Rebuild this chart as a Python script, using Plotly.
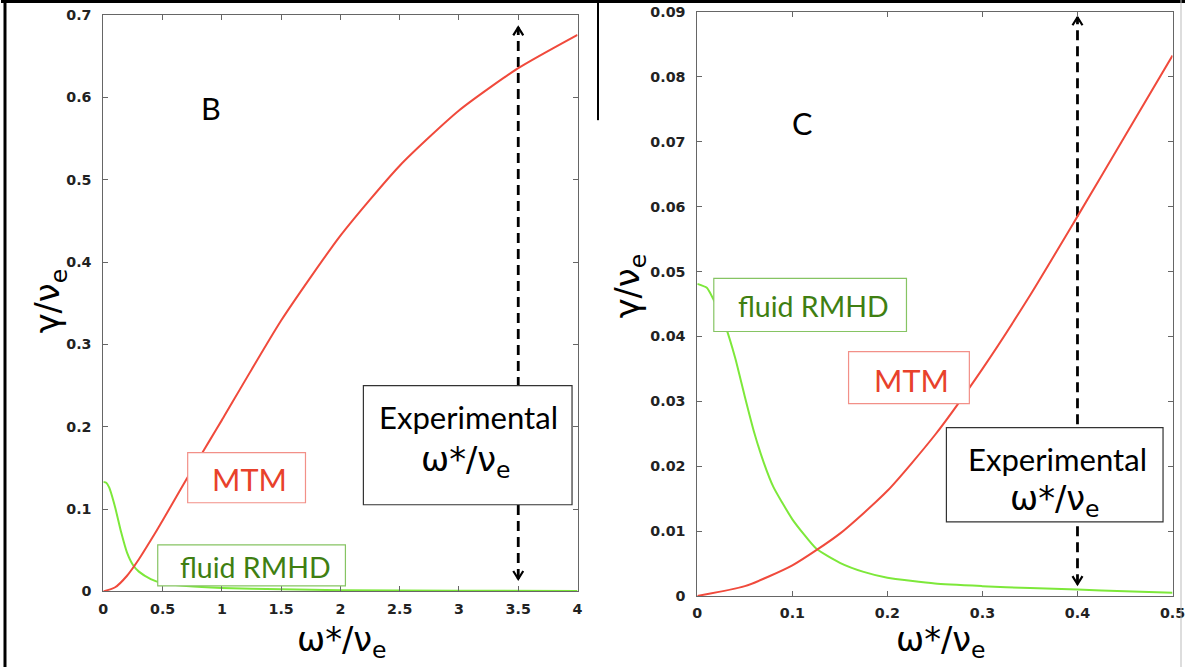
import plotly.graph_objects as go

# Target picture size and the page size that maps onto it
W, H = 1186, 667
SX, SY = 0.987, 0.9755           # picture px per page px
PW, PH = round(W / SX), round(H / SY)
OFFX, OFFY = 3.85, 7.6           # page shift so the figure starts at the picture's corner
F = 1 / ((SX + SY) / 2)          # font compensation

# ---------------- data ----------------
# Panel B
b_mtm_x = [0, 0.1, 0.2, 0.3, 0.4, 0.5, 0.6, 0.7, 0.8, 0.9, 1.0, 1.5, 2.0, 2.5, 3.0, 3.5, 4.0]
b_mtm_y = [0, 0.005, 0.019, 0.039, 0.062, 0.086, 0.111, 0.136, 0.160, 0.184, 0.208, 0.329, 0.432, 0.517, 0.584, 0.6355, 0.676]
b_rmhd_x = [0, 0.025, 0.05, 0.1, 0.15, 0.2, 0.25, 0.3, 0.4, 0.5, 0.7, 1.0, 1.5, 2.0, 3.0, 4.0]
b_rmhd_y = [0.133, 0.132, 0.126, 0.102, 0.072, 0.047, 0.032, 0.024, 0.015, 0.010, 0.0065, 0.004, 0.0025, 0.0015, 0.0008, 0.0005]
b_exp_x = 3.5
b_exp_y = [0.015, 0.685]
b_xticks = [0, 0.5, 1, 1.5, 2, 2.5, 3, 3.5, 4]
b_xticklabels = ["0", "0.5", "1", "1.5", "2", "2.5", "3", "3.5", "4"]
b_yticks = [0, 0.1, 0.2, 0.3, 0.4, 0.5, 0.6, 0.7]
b_yticklabels = ["0", "0.1", "0.2", "0.3", "0.4", "0.5", "0.6", "0.7"]

# Panel C
c_mtm_x = [0, 0.05, 0.1, 0.15, 0.2, 0.25, 0.3, 0.35, 0.4, 0.45, 0.5]
c_mtm_y = [0, 0.0015, 0.0047, 0.0096, 0.0162, 0.0248, 0.0350, 0.0463, 0.0585, 0.0709, 0.0833]
c_rmhd_x = [0, 0.01, 0.02, 0.03, 0.04, 0.05, 0.06, 0.07, 0.08, 0.1, 0.125, 0.15, 0.175, 0.2, 0.25, 0.3, 0.35, 0.4, 0.45, 0.5]
c_rmhd_y = [0.0481, 0.0475, 0.0448, 0.0414, 0.0366, 0.0307, 0.0251, 0.0205, 0.0168, 0.0118, 0.0073, 0.0051, 0.0037, 0.0028, 0.0019, 0.0015, 0.0012, 0.0010, 0.0007, 0.0005]
c_exp_x = 0.4
c_exp_y = [0.0018, 0.0892]
c_xticks = [0, 0.1, 0.2, 0.3, 0.4, 0.5]
c_xticklabels = ["0", "0.1", "0.2", "0.3", "0.4", "0.5"]
c_yticks = [0, 0.01, 0.02, 0.03, 0.04, 0.05, 0.06, 0.07, 0.08, 0.09]
c_yticklabels = ["0", "0.01", "0.02", "0.03", "0.04", "0.05", "0.06", "0.07", "0.08", "0.09"]

# ---------------- layout helpers (reference picture px -> paper) ----------------
def px(x):
    return x / W

def py(y):
    return 1 - y / H

RED = "#f04a3c"
GREEN = "#7de83a"
RED_BOX = "#f29088"
RED_TXT = "#e8412b"
GREEN_BOX = "#86c463"
GREEN_TXT = "#3f7f12"
AX = "#666666"

# plot areas in reference pixels: (left, top, right, bottom)
B_AREA = (102.5, 15, 577.5, 590.5)
C_AREA = (697.5, 12, 1173.5, 595)
B_RANGE = ([0, 4], [0, 0.7])
C_RANGE = ([0, 0.5], [0, 0.09])

fig = go.Figure()

def chevron(area, rng, x0, y0, up, xa, ya):
    l, t, r, b = area
    sx = (rng[0][1] - rng[0][0]) / (r - l)
    sy = (rng[1][1] - rng[1][0]) / (b - t)
    dx = 5 * sx
    dy = 8 * sy * (-1 if up else 1)
    fig.add_trace(go.Scatter(x=[x0 - dx, x0, x0 + dx], y=[y0 + dy, y0, y0 + dy], mode="lines",
                             line=dict(color="black", width=2.2), xaxis=xa, yaxis=ya,
                             showlegend=False, hoverinfo="skip"))

for (mx, my, rx, ry, ex, ey, area, rng, xa, ya) in [
    (b_mtm_x, b_mtm_y, b_rmhd_x, b_rmhd_y, b_exp_x, b_exp_y, B_AREA, B_RANGE, "x", "y"),
    (c_mtm_x, c_mtm_y, c_rmhd_x, c_rmhd_y, c_exp_x, c_exp_y, C_AREA, C_RANGE, "x2", "y2"),
]:
    fig.add_trace(go.Scatter(x=[ex, ex], y=ey, mode="lines",
                             line=dict(color="black", width=2.8, dash="10px,6px"),
                             xaxis=xa, yaxis=ya, showlegend=False, hoverinfo="skip"))
    chevron(area, rng, ex, ey[1], True, xa, ya)
    chevron(area, rng, ex, ey[0], False, xa, ya)
    fig.add_trace(go.Scatter(x=rx, y=ry, mode="lines", line=dict(color=GREEN, width=2, shape="spline", smoothing=0.5),
                             xaxis=xa, yaxis=ya, showlegend=False, cliponaxis=True))
    fig.add_trace(go.Scatter(x=mx, y=my, mode="lines", line=dict(color=RED, width=2, shape="spline", smoothing=0.6),
                             xaxis=xa, yaxis=ya, showlegend=False, cliponaxis=True))

def axis_common(standoff):
    return dict(showgrid=False, zeroline=False, showline=True, linecolor=AX, linewidth=1,
                mirror="ticks", ticks="inside", ticklen=5, tickcolor=AX, tickwidth=1,
                tickfont=dict(family="DejaVu Sans", size=14 * F, color="#222", weight="bold"),
                ticklabelstandoff=standoff, fixedrange=True)

fig.update_layout(
    autosize=True, margin=dict(l=0, r=0, t=0, b=0),
    paper_bgcolor="white", plot_bgcolor="white",
    xaxis=dict(domain=[px(B_AREA[0]), px(B_AREA[2])], range=B_RANGE[0], anchor="y",
               tickvals=b_xticks, ticktext=b_xticklabels, **axis_common(4)),
    yaxis=dict(domain=[py(B_AREA[3]), py(B_AREA[1])], range=B_RANGE[1], anchor="x",
               tickvals=b_yticks, ticktext=b_yticklabels, **axis_common(8)),
    xaxis2=dict(domain=[px(C_AREA[0]), px(C_AREA[2])], range=C_RANGE[0], anchor="y2",
                tickvals=c_xticks, ticktext=c_xticklabels, **axis_common(4)),
    yaxis2=dict(domain=[py(C_AREA[3]), py(C_AREA[1])], range=C_RANGE[1], anchor="x2",
                tickvals=c_yticks, ticktext=c_yticklabels, **axis_common(8)),
)

shapes = []
annotations = []

def box(x0, y0, x1, y1, color, width=1.2):
    shapes.append(dict(type="rect", xref="paper", yref="paper", x0=px(x0), x1=px(x1), y0=py(y1), y1=py(y0),
                       line=dict(color=color, width=width), fillcolor="white", layer="above"))

def text(x, y, s, size, color, family="Lato", angle=0):
    annotations.append(dict(x=px(x), y=py(y), xref="paper", yref="paper", text=s, showarrow=False,
                            xanchor="center", yanchor="middle", textangle=angle,
                            font=dict(family=family, size=size * F, color=color)))

# frame lines
shapes.append(dict(type="line", xref="paper", yref="paper", x0=px(4), x1=px(4), y0=0, y1=1,
                   line=dict(color="black", width=3)))
shapes.append(dict(type="line", xref="paper", yref="paper", x0=0, x1=1, y0=py(1.5), y1=py(1.5),
                   line=dict(color="black", width=3)))
shapes.append(dict(type="line", xref="paper", yref="paper", x0=px(598), x1=px(598), y0=py(120), y1=1,
                   line=dict(color="black", width=2)))
shapes.append(dict(type="line", xref="paper", yref="paper", x0=px(1182), x1=px(1182), y0=0, y1=1,
                   line=dict(color="#bbbbbb", width=1)))

AX_FONT = "DejaVu Sans"
# Panel B labels
text(210, 108, "B", 30, "black")
box(187, 452, 305, 502, RED_BOX)
text(249, 479, "MTM", 30, RED_TXT)
box(157, 544, 345, 585, GREEN_BOX)
text(255, 566, "fluid RMHD", 28, GREEN_TXT)
box(363, 385, 572, 504, "#333333")
text(468, 416, "Experimental", 30.5, "black")
text(466, 461, "ω*/ν<sub>e</sub>", 33, "black", family=AX_FONT)
text(50, 300, "γ/ν<sub>e</sub>", 33, "black", family=AX_FONT, angle=-90)
text(342, 641, "ω*/ν<sub>e</sub>", 33, "black", family=AX_FONT)

# Panel C labels
text(802, 123, "C", 30, "black")
box(714, 278, 907, 331, GREEN_BOX)
text(814, 306, "fluid RMHD", 28, GREEN_TXT)
box(849, 351, 970, 403, RED_BOX)
text(912, 380, "MTM", 30, RED_TXT)
box(947, 427, 1164, 521, "#333333")
text(1058, 458, "Experimental", 30.5, "black")
text(1056, 500, "ω*/ν<sub>e</sub>", 33, "black", family=AX_FONT)
text(630, 285, "γ/ν<sub>e</sub>", 33, "black", family=AX_FONT, angle=-90)
text(942, 641, "ω*/ν<sub>e</sub>", 33, "black", family=AX_FONT)

fig.update_layout(shapes=shapes, annotations=annotations)

fig.write_html("out.html",
               config={"displayModeBar": False},
               default_width="%dpx; position:fixed; left:%.2fpx; top:%.2fpx; margin:0px" % (PW, -OFFX, -OFFY),
               default_height="%dpx" % PH)
